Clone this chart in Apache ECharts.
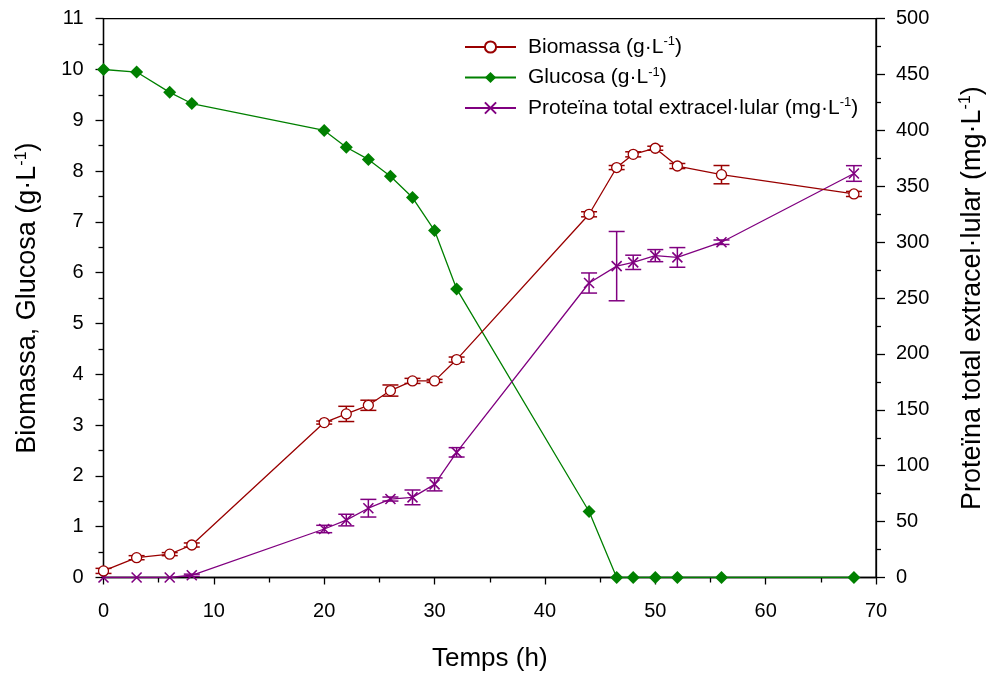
<!DOCTYPE html>
<html>
<head>
<meta charset="utf-8">
<script src="https://cdn.jsdelivr.net/npm/echarts@6/dist/echarts.min.js"></script>
<style>
  html, body { margin: 0; padding: 0; background: #fff; }
  #chart { width: 986px; height: 675px; }
</style>
</head>
<body>
<div id="chart"></div>
<script>
// Sampling times (h)
const hours = [0, 3, 6, 8, 20, 22, 24, 26, 28, 30, 32, 44, 46.5, 48, 50, 52, 56, 68];

// Biomass (g/L) with standard deviation
const biomass    = [0.13, 0.39, 0.46, 0.64, 3.05, 3.22, 3.39, 3.68, 3.87, 3.87, 4.29, 7.15, 8.07, 8.33, 8.45, 8.10, 7.93, 7.55];
const biomassErr = [0.05, 0.04, 0.03, 0.04, 0.03, 0.15, 0.10, 0.11, 0.05, 0.03, 0.05, 0.05, 0.04, 0.05, 0.04, 0.05, 0.18, 0.05];

// Glucose (g/L)
const glucose = [10.0, 9.95, 9.55, 9.33, 8.80, 8.47, 8.23, 7.90, 7.48, 6.83, 5.68, 1.30, 0, 0, 0, 0, 0, 0];

// Total extracellular protein (mg/L) with standard deviation
const protein    = [0, 0, 0, 2, 43.4, 51.4, 62.0, 70.2, 71.7, 83.3, 112, 263.5, 278.6, 282, 288, 286.4, 300, 361.5];
const proteinErr = [0, 0, 0, 1, 3.3, 5.2, 7.9, 1.8, 6.6, 5.8, 4.2, 9.0, 31, 6.4, 5.4, 8.8, 2.0, 7.0];

const xTicks = { min: 0, max: 70, interval: 10 };
const leftTicks = { min: 0, max: 11, interval: 1 };
const rightTicks = { min: 0, max: 500, interval: 50 };

const names = {
  bio: 'Biomassa',
  glu: 'Glucosa',
  pro: 'Proteïna total extracel·lular'
};
const units = {
  bio: 'g·L',
  glu: 'g·L',
  pro: 'mg·L'
};

const FONT = 'Liberation Sans, Arial, sans-serif';
const C_BIO = '#990000';
const C_GLU = '#008000';
const C_PRO = '#800080';

function pairs(ys) { return hours.map((h, i) => [h, ys[i]]); }
function errData(ys, es) {
  const out = [];
  hours.forEach((h, i) => { if (es[i] > 0) out.push([h, ys[i] - es[i], ys[i] + es[i]]); });
  return out;
}
function errRender(color) {
  return function (params, api) {
    const x = api.value(0);
    const lo = api.coord([x, api.value(1)]);
    const hi = api.coord([x, api.value(2)]);
    const w = 8;
    const st = { stroke: color, lineWidth: 1.5 };
    return {
      type: 'group',
      children: [
        { type: 'line', shape: { x1: lo[0], y1: lo[1], x2: hi[0], y2: hi[1] }, style: st },
        { type: 'line', shape: { x1: lo[0] - w, y1: lo[1], x2: lo[0] + w, y2: lo[1] }, style: st },
        { type: 'line', shape: { x1: hi[0] - w, y1: hi[1], x2: hi[0] + w, y2: hi[1] }, style: st }
      ]
    };
  };
}

const legendRich = {
  g: { width: 7 },
  n: { fontFamily: FONT, fontSize: 21, color: '#000' },
  s: { fontFamily: FONT, fontSize: 13, color: '#000', verticalAlign: 'bottom', padding: [0, 0, 11, 0] }
};
const titleRich = {
  t: { fontFamily: FONT, fontSize: 27, color: '#000' },
  u: { fontFamily: FONT, fontSize: 16, color: '#000', verticalAlign: 'bottom', padding: [0, 0, 13, 0] }
};

const chart = echarts.init(document.getElementById('chart'), null, { renderer: 'canvas' });

const tickStyle = { color: '#000', width: 1.3 };
const axisCommon = {
  axisLine: { show: true, lineStyle: { color: '#000', width: 1.3 } },
  splitLine: { show: false },
  nameTextStyle: { color: '#000', fontFamily: FONT, fontSize: 26 }
};
const labelStyle = { color: '#000', fontFamily: FONT, fontSize: 20 };

chart.setOption({
  animation: false,
  backgroundColor: '#fff',
  grid: {
    left: 103.5, right: 110, top: 18.7, bottom: 97.5,
    outerBoundsMode: 'none', containLabel: false,
    show: true, borderColor: '#000', borderWidth: 1.3, backgroundColor: 'transparent'
  },
  legend: {
    orient: 'vertical',
    left: 459, top: 30,
    itemWidth: 51, itemHeight: 14, itemGap: 8,
    data: [names.bio, names.glu, names.pro],
    formatter: function (name) {
      const key = Object.keys(names).find(k => names[k] === name);
      return '{g|}{n|' + name + ' (' + units[key] + '}{s|-1}{n|)}';
    },
    textStyle: { rich: legendRich, fontFamily: FONT, fontSize: 21, color: '#000' }
  },
  xAxis: {
    type: 'value',
    min: xTicks.min, max: xTicks.max, interval: xTicks.interval,
    name: 'Temps (h)', nameLocation: 'middle', nameGap: 68,
    axisTick: { show: true, length: 7, lineStyle: tickStyle },
    minorTick: { show: true, splitNumber: 2, length: 5, lineStyle: tickStyle },
    ...axisCommon,
    axisLabel: { ...labelStyle, margin: 24 }
  },
  yAxis: [
    {
      type: 'value', position: 'left',
      min: leftTicks.min, max: leftTicks.max, interval: leftTicks.interval,
      name: '{t|Biomassa, Glucosa (g·L}{u|-1}{t|)}',
      nameLocation: 'middle', nameRotate: 90, nameGap: 61,
      axisTick: { show: true, length: 8, lineStyle: tickStyle },
      minorTick: { show: true, splitNumber: 2, length: 5, lineStyle: tickStyle },
      ...axisCommon,
      axisLabel: { ...labelStyle, margin: 20 },
      nameTextStyle: { rich: titleRich }
    },
    {
      type: 'value', position: 'right',
      min: rightTicks.min, max: rightTicks.max, interval: rightTicks.interval,
      name: '{t|Proteïna total extracel·lular (mg·L}{u|-1}{t|)}',
      nameLocation: 'middle', nameRotate: 90, nameGap: 82,
      axisTick: { show: true, length: 9, lineStyle: tickStyle },
      minorTick: { show: true, splitNumber: 2, length: 5, lineStyle: tickStyle },
      ...axisCommon,
      axisLabel: { ...labelStyle, margin: 20 },
      nameTextStyle: { rich: titleRich }
    }
  ],
  series: [
    {
      type: 'custom', name: 'bioErr', yAxisIndex: 0,
      renderItem: errRender(C_BIO), data: errData(biomass, biomassErr),
      encode: { x: 0, y: [1, 2] }, z: 1, silent: true
    },
    {
      type: 'custom', name: 'proErr', yAxisIndex: 1,
      renderItem: errRender(C_PRO), data: errData(protein, proteinErr),
      encode: { x: 0, y: [1, 2] }, z: 1, silent: true
    },
    {
      type: 'line', name: names.glu, yAxisIndex: 0, data: pairs(glucose),
      symbol: 'diamond', symbolSize: 13, showAllSymbol: true,
      lineStyle: { color: C_GLU, width: 1.3 },
      itemStyle: { color: C_GLU, borderColor: C_GLU, borderWidth: 0 },
      z: 3
    },
    {
      type: 'line', name: names.pro, yAxisIndex: 1, data: pairs(protein),
      symbol: 'path://M0,0L10,10M10,0L0,10', symbolSize: 10, showAllSymbol: true,
      lineStyle: { color: C_PRO, width: 1.3 },
      itemStyle: { color: 'none', borderColor: C_PRO, borderWidth: 1.6 },
      z: 4
    },
    {
      type: 'line', name: names.bio, yAxisIndex: 0, data: pairs(biomass),
      symbol: 'circle', symbolSize: 10, showAllSymbol: true,
      lineStyle: { color: C_BIO, width: 1.3 },
      itemStyle: { color: '#fff', borderColor: C_BIO, borderWidth: 1.3 },
      z: 5
    }
  ]
});
</script>
</body>
</html>
